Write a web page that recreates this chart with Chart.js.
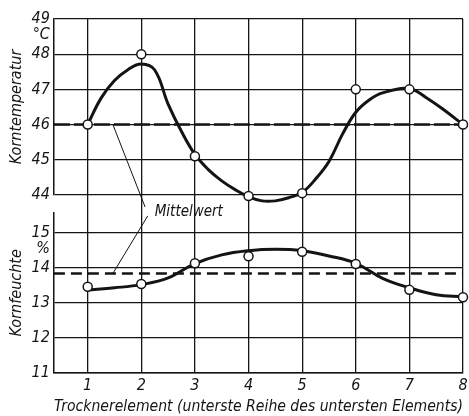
<!DOCTYPE html>
<html>
<head>
<meta charset="utf-8">
<script src="https://cdn.jsdelivr.net/npm/chart.js@4.4.1/dist/chart.umd.min.js"></script>
<style>
  html, body { margin: 0; padding: 0; background: #fff; }
  #wrap { width: 469px; height: 416px; }
</style>
</head>
<body>
<div id="wrap"><canvas id="chart"></canvas></div>
<script>
/* =========================================================
   DATA
========================================================= */

const elements = [1, 2, 3, 4, 5, 6, 7, 8];
const X_MIN = 0.37;

const tempTicks = [44, 45, 46, 47, 48, 49];
const moistTicks = [11, 12, 13, 14, 15];

// measured values (open circles)
const tempMeasured = [46.0, 48.0, 45.1, 43.97, 44.05, 47.0, 47.0, 46.0];
const moistMeasured = [13.46, 13.54, 14.13, 14.33, 14.46, 14.11, 13.37, 13.16];

// smoothed curves as drawn in the figure
const tempCurveX = [1, 1.25, 1.5, 1.75, 2, 2.25, 2.5, 2.75, 3, 3.25, 3.5, 3.75, 4, 4.25, 4.5, 4.75, 5, 5.25, 5.5, 5.75, 6, 6.25, 6.5, 7, 7.33, 7.66, 8];
const tempCurve = [46.0, 46.75, 47.25, 47.56, 47.72, 47.55, 46.58, 45.8, 45.15, 44.72, 44.4, 44.15, 43.95, 43.83, 43.83, 43.92, 44.07, 44.45, 44.95, 45.72, 46.35, 46.7, 46.9, 47.02, 46.75, 46.4, 46.0];

const moistCurveX = [1, 1.5, 2, 2.5, 3, 3.5, 4, 4.5, 5, 5.5, 6, 6.5, 7, 7.5, 8];
const moistCurve = [13.37, 13.43, 13.52, 13.71, 14.12, 14.37, 14.49, 14.53, 14.49, 14.34, 14.13, 13.7, 13.43, 13.23, 13.17];

// mean values (dashed lines)
const tempMean = 46.0;
const moistMean = 13.84;

/* =========================================================
   STYLE
========================================================= */

const INK = "#141414";
const FONT = "'DejaVu Sans Condensed', 'DejaVu Sans', sans-serif";
const tickFont = { family: FONT, size: 16, style: "italic", lineHeight: 1.1 };
const titleFont = { family: FONT, size: 16, style: "italic", lineHeight: 1.1 };

const gridStyle = { color: INK, lineWidth: 1.3, drawTicks: false };
const borderStyle = { display: true, color: INK, width: 1.5 };

/* =========================================================
   HELPERS
========================================================= */

function toPoints(xs, ys) {
  return xs.map((x, i) => ({ x, y: ys[i] }));
}

function fixedTicks(values) {
  return (scale) => {
    scale.ticks = values.map((v) => ({ value: v }));
  };
}

const annotations = {
  id: "annotations",
  afterDatasetsDraw(chart) {
    const { ctx } = chart;
    const { x, yT, yM } = chart.scales;

    ctx.save();
    ctx.fillStyle = INK;
    ctx.strokeStyle = INK;
    ctx.font = `italic 16px ${FONT}`;
    ctx.textAlign = "right";
    ctx.textBaseline = "middle";
    ctx.fillText("°C", yT.right - 4, yT.getPixelForValue(49) + 16);
    ctx.fillText("%", yM.right - 4, yM.getPixelForValue(15) + 16);

    // "Mittelwert" label with two leader lines
    const gapTop = yT.bottom;
    ctx.font = `italic 15px ${FONT}`;
    ctx.textAlign = "left";
    ctx.fillText("Mittelwert", x.getPixelForValue(2.25), gapTop + 17);

    ctx.lineWidth = 1;
    ctx.beginPath();
    ctx.moveTo(x.getPixelForValue(1.47), yT.getPixelForValue(tempMean));
    ctx.lineTo(x.getPixelForValue(2.07), gapTop + 12);
    ctx.moveTo(x.getPixelForValue(2.12), gapTop + 21);
    ctx.lineTo(x.getPixelForValue(1.47), yM.getPixelForValue(moistMean));
    ctx.stroke();
    ctx.restore();
  }
};

/* =========================================================
   CHART
========================================================= */

const lineBase = {
  borderColor: INK,
  pointRadius: 0,
  fill: false
};

const markerBase = {
  showLine: false,
  pointRadius: 4.5,
  pointBorderWidth: 1.5,
  pointBackgroundColor: "#fff",
  pointBorderColor: INK,
  clip: false,
  order: 0
};

const yTicks = { font: tickFont, color: INK, padding: 4, autoSkip: false };

new Chart(document.getElementById("chart"), {
  type: "line",
  data: {
    datasets: [
      { ...markerBase, yAxisID: "yT", data: toPoints(elements, tempMeasured) },
      { ...markerBase, yAxisID: "yM", data: toPoints(elements, moistMeasured) },
      {
        ...lineBase,
        yAxisID: "yT",
        data: toPoints(tempCurveX, tempCurve),
        borderWidth: 3,
        tension: 0.4,
        clip: false,
        order: 1
      },
      {
        ...lineBase,
        yAxisID: "yM",
        data: toPoints(moistCurveX, moistCurve),
        borderWidth: 3,
        tension: 0.4,
        order: 1
      },
      {
        ...lineBase,
        yAxisID: "yT",
        data: toPoints([X_MIN, 8], [tempMean, tempMean]),
        borderWidth: 2.6,
        borderDash: [16, 4],
        order: 2
      },
      {
        ...lineBase,
        yAxisID: "yM",
        data: toPoints([X_MIN, 8], [moistMean, moistMean]),
        borderWidth: 2.6,
        borderDash: [11, 6],
        order: 2
      }
    ]
  },
  options: {
    responsive: true,
    maintainAspectRatio: false,
    animation: false,
    layout: { padding: { left: 6, top: 19, right: 0, bottom: 0 } },
    plugins: {
      legend: { display: false },
      tooltip: { enabled: false }
    },
    scales: {
      x: {
        type: "linear",
        min: X_MIN,
        max: 8,
        afterBuildTicks: fixedTicks(elements),
        // the "8" label may overhang closer to the edge than the default
        afterFit: (scale) => {
          scale.paddingRight = 6;
        },
        grid: gridStyle,
        border: borderStyle,
        ticks: { font: tickFont, color: INK, padding: 4 },
        title: {
          display: true,
          text: "Trocknerelement (unterste Reihe des untersten Elements)",
          font: titleFont,
          color: INK,
          padding: 0
        }
      },
      // stacked panels: the last one defined ends up on top
      yM: {
        type: "linear",
        position: "left",
        stack: "panels",
        stackWeight: 160,
        min: 11,
        max: 15.57,
        afterBuildTicks: fixedTicks(moistTicks),
        grid: gridStyle,
        border: borderStyle,
        ticks: yTicks,
        title: {
          display: true,
          text: "Kornfeuchte",
          font: titleFont,
          color: INK,
          padding: 2
        }
      },
      yGap: {
        type: "linear",
        position: "left",
        stack: "panels",
        stackWeight: 18,
        grid: { display: false },
        border: { display: false },
        ticks: { display: false }
      },
      yT: {
        type: "linear",
        position: "left",
        stack: "panels",
        stackWeight: 176,
        min: 44,
        max: 49,
        afterBuildTicks: fixedTicks(tempTicks),
        grid: gridStyle,
        border: borderStyle,
        ticks: yTicks,
        title: {
          display: true,
          text: "Korntemperatur",
          font: titleFont,
          color: INK,
          padding: 2
        }
      }
    }
  },
  plugins: [annotations]
});
</script>
</body>
</html>
